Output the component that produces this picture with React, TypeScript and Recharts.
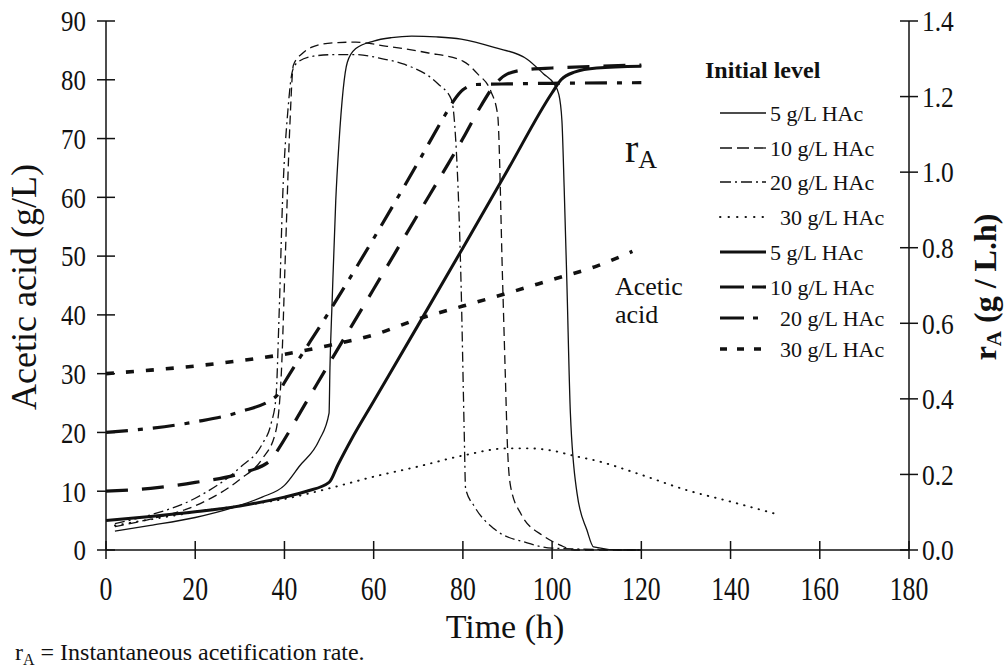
import { LineChart, Line, XAxis, YAxis } from 'recharts'

// Time axis ticks (h) and the two y-axis tick sets
const timeTicks = [0, 20, 40, 60, 80, 100, 120, 140, 160, 180]
const acidTicks = [0, 10, 20, 30, 40, 50, 60, 70, 80, 90]
const rateTicks = [0, 0.2, 0.4, 0.6, 0.8, 1.0, 1.2, 1.4]

// Acetic acid concentration (g/L), thick lines
const acid5Time = [0, 10, 20, 30, 40, 45, 50, 52, 55, 60, 70, 80, 90, 100, 102, 105, 110, 120]
const acid5 = [5, 5.7, 6.5, 7.5, 9, 10, 11.5, 14.5, 18.8, 25.3, 38.3, 51.4, 64.6, 77.8, 80, 81.3, 82, 82.3]

const acid10Time = [0, 10, 20, 30, 37, 38.5, 45, 50, 60, 70, 76.7, 80, 84, 87, 90, 95, 100, 110, 120]
const acid10 = [10, 10.5, 11.5, 13, 15.3, 17, 25.3, 31.7, 44.4, 57.2, 65.7, 70, 75.5, 79, 81, 81.8, 82, 82.3, 82.5]

const acid20Time = [0, 10, 20, 30, 38.2, 40, 50, 60, 70, 76, 78, 80, 83, 90, 100, 120]
const acid20 = [20, 20.7, 21.8, 23.5, 26.2, 28.5, 40.5, 53, 66, 74, 76.5, 78.3, 79.2, 79.3, 79.4, 79.5]

const acid30Time = [0, 10, 20, 30, 40, 50, 60, 70, 80, 90, 100, 110, 118]
const acid30 = [30, 30.6, 31.3, 32.2, 33.3, 34.8, 36.6, 39.3, 41.5, 43.7, 46, 48.3, 50.8]

// Instantaneous acetification rate rA (g / L.h), thin lines
const rate5Time = [2, 10, 20, 30, 35, 40, 43.3, 47.8, 50, 50.2, 50.7, 51.5, 52.2, 54.1, 56, 60, 64, 68.5, 74, 79.6, 87, 94.4, 98.1, 100.4, 101.5, 102.2, 102.7, 103.3, 104.1, 105.6, 107.8, 109.3, 115, 120]
const rate5 = [0.05, 0.065, 0.086, 0.118, 0.14, 0.171, 0.221, 0.291, 0.362, 0.482, 0.661, 0.924, 1.073, 1.291, 1.327, 1.347, 1.356, 1.36, 1.358, 1.352, 1.33, 1.299, 1.26, 1.234, 1.206, 1.136, 0.96, 0.712, 0.361, 0.149, 0.053, 0.008, 0, 0]

const rate10Time = [2, 10, 20, 30, 35, 38, 39.3, 40.2, 41.2, 42, 44, 46, 48, 52, 56, 63, 72, 80, 83.3, 86.3, 87.8, 88.9, 89.5, 90, 90.7, 93, 98.2, 101.8, 105, 120]
const rate10 = [0.062, 0.082, 0.117, 0.187, 0.241, 0.311, 0.467, 0.778, 1.12, 1.283, 1.314, 1.33, 1.338, 1.343, 1.344, 1.333, 1.316, 1.294, 1.26, 1.213, 1.151, 0.712, 0.467, 0.272, 0.168, 0.096, 0.036, 0.013, 0, 0]

const rate20Time = [2, 10, 20, 30, 35, 37, 38.1, 38.8, 39.6, 40.8, 41.8, 43, 46.5, 51, 56, 62, 67, 74.4, 77.4, 78.2, 79.6, 80.3, 80.6, 82.6, 87, 94.4, 100, 120]
const rate20 = [0.07, 0.093, 0.137, 0.218, 0.28, 0.334, 0.404, 0.622, 0.933, 1.167, 1.268, 1.291, 1.307, 1.311, 1.311, 1.3, 1.285, 1.234, 1.193, 1.12, 0.7, 0.311, 0.163, 0.115, 0.056, 0.019, 0.005, 0]

const rate30Time = [2, 10, 20, 30, 40, 50, 60, 70, 80, 90, 95, 100, 105, 110, 120, 130, 140, 150]
const rate30 = [0.065, 0.081, 0.1, 0.117, 0.135, 0.163, 0.194, 0.221, 0.25, 0.269, 0.269, 0.263, 0.249, 0.236, 0.199, 0.159, 0.128, 0.096]

const legendLabels = ['5 g/L HAc', '10 g/L HAc', '20 g/L HAc', '30 g/L HAc', '5 g/L HAc', '10 g/L HAc', '20 g/L HAc', '30 g/L HAc']

const toPoints = (ts: number[], vs: number[]) => ts.map((t, i) => ({ t, v: vs[i] }))

const FONT = '"Liberation Serif", "Times New Roman", serif'
const INK = '#111'

// line styles: first four = rA (thin), last four = acetic acid (thick)
const STYLES = [
  { width: 1.3, dash: undefined, cap: 'butt', legendDash: undefined },
  { width: 1.3, dash: '9 5', cap: 'butt', legendDash: '12 5' },
  { width: 1.3, dash: '10 4 2 4', cap: 'butt', legendDash: '11 4 2 4' },
  { width: 1.9, dash: '0.5 7', cap: 'round', legendDash: '0.5 8' },
  { width: 3, dash: undefined, cap: 'butt', legendDash: undefined },
  { width: 3.2, dash: '22 14', cap: 'butt', legendDash: '24 8' },
  { width: 3.2, dash: '22 10 5 10', cap: 'butt', legendDash: '24 9 5 9' },
  { width: 3.6, dash: '8 12', cap: 'butt', legendDash: '7 10' },
]

const LeftTick = (props: any) => {
  const { x, y, payload } = props
  return (
    <g>
      <line x1={x - 9} x2={x + 9} y1={y} y2={y} stroke={INK} strokeWidth={1.5} />
      <text transform={`translate(${x - 20},${y}) scale(0.83,1)`} textAnchor="end" dominantBaseline="central" fontSize={30} fontFamily={FONT} fill={INK}>
        {payload.value}
      </text>
    </g>
  )
}

const RightTick = (props: any) => {
  const { x, y, payload } = props
  return (
    <g>
      <line x1={x - 9} x2={x + 9} y1={y} y2={y} stroke={INK} strokeWidth={1.5} />
      <text transform={`translate(${x + 13},${y}) scale(0.85,1)`} textAnchor="start" dominantBaseline="central" fontSize={30} fontFamily={FONT} fill={INK}>
        {Number(payload.value).toFixed(1)}
      </text>
    </g>
  )
}

const BottomTick = (props: any) => {
  const { x, y, payload } = props
  return (
    <g>
      <line x1={x} x2={x} y1={y - 9} y2={y + 9} stroke={INK} strokeWidth={1.5} />
      <text transform={`translate(${x},${y + 50}) scale(0.78,1)`} textAnchor="middle" fontSize={33} fontFamily={FONT} fill={INK}>
        {payload.value}
      </text>
    </g>
  )
}

const legendRows = [113, 148, 182, 217, 252, 287, 318, 349]
const legendTextX = [770, 770, 770, 780, 770, 770, 780, 780]

export default function App() {
  const rateSeries = [
    toPoints(rate5Time, rate5),
    toPoints(rate10Time, rate10),
    toPoints(rate20Time, rate20),
    toPoints(rate30Time, rate30),
  ]
  const acidSeries = [
    toPoints(acid5Time, acid5),
    toPoints(acid10Time, acid10),
    toPoints(acid20Time, acid20),
    toPoints(acid30Time, acid30),
  ]

  return (
    <div style={{ position: 'absolute', left: 0, top: 0, width: 1007, height: 672, background: '#fff' }}>
      <LineChart width={1007} height={672} margin={{ top: 21, right: 38, bottom: 72, left: 36 }}>
        <XAxis
          dataKey="t"
          type="number"
          domain={[0, 180]}
          ticks={timeTicks}
          height={50}
          tickSize={0}
          tickMargin={0}
          tickLine={false}
          axisLine={{ stroke: INK, strokeWidth: 1.5 }}
          tick={<BottomTick />}
        />
        <YAxis
          yAxisId="left"
          domain={[0, 90]}
          ticks={acidTicks}
          width={70}
          tickSize={0}
          tickMargin={0}
          tickLine={false}
          axisLine={{ stroke: INK, strokeWidth: 1.5 }}
          tick={<LeftTick />}
        />
        <YAxis
          yAxisId="right"
          orientation="right"
          domain={[0, 1.4]}
          ticks={rateTicks}
          width={60}
          tickSize={0}
          tickMargin={0}
          tickLine={false}
          axisLine={{ stroke: INK, strokeWidth: 1.5 }}
          tick={<RightTick />}
        />
        {rateSeries.map((pts, i) => (
          <Line
            key={`rate${i}`}
            yAxisId="right"
            data={pts}
            dataKey="v"
            type="monotone"
            stroke={INK}
            strokeWidth={STYLES[i].width}
            strokeDasharray={STYLES[i].dash}
            strokeLinecap={STYLES[i].cap as any}
            dot={false}
            activeDot={false}
            isAnimationActive={false}
          />
        ))}
        {acidSeries.map((pts, i) => (
          <Line
            key={`acid${i}`}
            yAxisId="left"
            data={pts}
            dataKey="v"
            type="monotone"
            stroke={INK}
            strokeWidth={STYLES[i + 4].width}
            strokeDasharray={STYLES[i + 4].dash}
            dot={false}
            activeDot={false}
            isAnimationActive={false}
          />
        ))}
      </LineChart>

      {/* titles, annotations and legend */}
      <svg width={1007} height={672} style={{ position: 'absolute', left: 0, top: 0, pointerEvents: 'none' }}>
        <g fontFamily={FONT} fill={INK}>
          <text transform="translate(36,287) rotate(-90)" textAnchor="middle" fontSize={36}>
            Acetic acid (g/L)
          </text>
          <text transform="translate(996,287) rotate(-90)" textAnchor="middle" fontSize={32} fontWeight="bold">
            r<tspan fontSize={21} dy={5}>A</tspan>
            <tspan dy={-5}> (g / L.h)</tspan>
          </text>
          <text x={505} y={638} textAnchor="middle" fontSize={34}>
            Time (h)
          </text>
          <text x={625} y={162} fontSize={40}>
            r<tspan fontSize={26} dy={6}>A</tspan>
          </text>
          <text x={615} y={295} fontSize={26}>Acetic</text>
          <text x={615} y={323} fontSize={26}>acid</text>
          <text x={15} y={660} fontSize={24}>
            r<tspan fontSize={16} dy={5}>A</tspan>
            <tspan dy={-5}> = Instantaneous acetification rate.</tspan>
          </text>

          <text x={705} y={78} fontSize={24} fontWeight="bold">
            Initial level
          </text>
          {legendLabels.map((label, i) => (
            <g key={`leg${i}`}>
              <line
                x1={720}
                x2={766}
                y1={legendRows[i]}
                y2={legendRows[i]}
                stroke={INK}
                strokeWidth={STYLES[i].width}
                strokeDasharray={STYLES[i].legendDash}
                strokeLinecap={STYLES[i].cap as any}
              />
              <text x={legendTextX[i]} y={legendRows[i]} dominantBaseline="central" fontSize={22}>
                {label}
              </text>
            </g>
          ))}
        </g>
      </svg>
    </div>
  )
}
